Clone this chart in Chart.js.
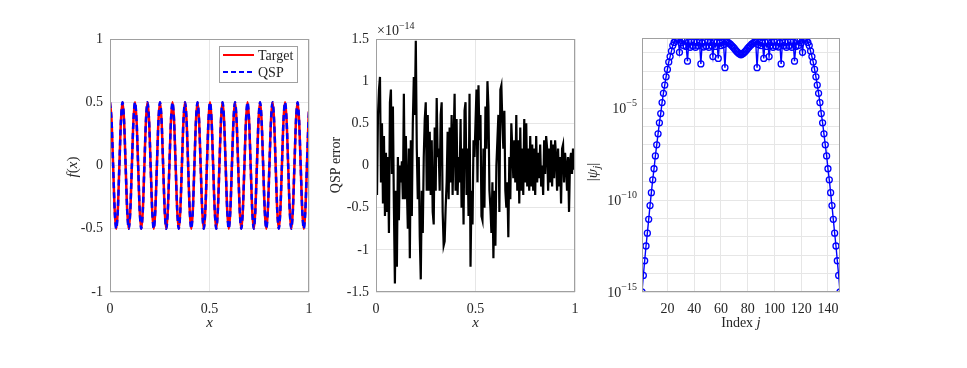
<!DOCTYPE html>
<html><head><meta charset="utf-8">
<script src="https://cdn.jsdelivr.net/npm/chart.js@4.4.0/dist/chart.umd.min.js"></script>
<style>
html,body{margin:0;padding:0;background:#fff;}
#wrap{position:relative;width:967px;height:368px;overflow:hidden;background:#fff;}
#wrap canvas{position:absolute;left:0;top:0;}
</style></head><body>
<div id="wrap">
<canvas id="c1" width="967" height="368"></canvas>
<canvas id="c2" width="967" height="368"></canvas>
<canvas id="c3" width="967" height="368"></canvas>
</div>
<script>
// ---------- Panel 1: f(x), Target vs QSP ----------
const fx = [0,0.00785,0.01571,0.02356,0.03142,0.03927,0.04712,0.05498,
0.06283,0.07069,0.07854,0.08639,0.09425,0.10210,0.10996,0.11781,
0.12566,0.13352,0.14137,0.14923,0.15708,0.16493,0.17279,0.18064,
0.18850,0.19635,0.20420,0.21206,0.21991,0.22777,0.23562,0.24347,
0.25133,0.25918,0.26704,0.27489,0.28274,0.29060,0.29845,0.30631,
0.31416,0.32201,0.32987,0.33772,0.34558,0.35343,0.36128,0.36914,
0.37699,0.38485,0.39270,0.40055,0.40841,0.41626,0.42412,0.43197,
0.43982,0.44768,0.45553,0.46339,0.47124,0.47909,0.48695,0.49480,
0.50265,0.51051,0.51836,0.52622,0.53407,0.54192,0.54978,0.55763,
0.56549,0.57334,0.58119,0.58905,0.59690,0.60476,0.61261,0.62046,
0.62832,0.63617,0.64403,0.65188,0.65973,0.66759,0.67544,0.68330,
0.69115,0.69900,0.70686,0.71471,0.72257,0.73042,0.73827,0.74613,
0.75398,0.76184,0.76969,0.77754,0.78540,0.79325,0.80111,0.80896,
0.81681,0.82467,0.83252,0.84038,0.84823,0.85608,0.86394,0.87179,
0.87965,0.88750,0.89535,0.90321,0.91106,0.91892,0.92677,0.93462,
0.94248,0.95033,0.95819,0.96604,0.97389,0.98175,0.98960,0.99746,1];
const targetY = [0.5,0.3536,0,-0.3536,-0.5,-0.3536,0,0.3536,
0.5,0.3536,0,-0.3536,-0.5,-0.3536,0,0.3536,
0.5,0.3536,0,-0.3536,-0.5,-0.3536,0,0.3536,
0.5,0.3536,0,-0.3536,-0.5,-0.3536,0,0.3536,
0.5,0.3536,0,-0.3536,-0.5,-0.3536,0,0.3536,
0.5,0.3536,0,-0.3536,-0.5,-0.3536,0,0.3536,
0.5,0.3536,0,-0.3536,-0.5,-0.3536,0,0.3536,
0.5,0.3536,0,-0.3536,-0.5,-0.3536,0,0.3536,
0.5,0.3536,0,-0.3536,-0.5,-0.3536,0,0.3536,
0.5,0.3536,0,-0.3536,-0.5,-0.3536,0,0.3536,
0.5,0.3536,0,-0.3536,-0.5,-0.3536,0,0.3536,
0.5,0.3536,0,-0.3536,-0.5,-0.3536,0,0.3536,
0.5,0.3536,0,-0.3536,-0.5,-0.3536,0,0.3536,
0.5,0.3536,0,-0.3536,-0.5,-0.3536,0,0.3536,
0.5,0.3536,0,-0.3536,-0.5,-0.3536,0,0.3536,
0.5,0.3536,0,-0.3536,-0.5,-0.3536,0,0.3536,0.431];
const qspY = [0.5,0.3536,0,-0.3536,-0.5,-0.3536,0,0.3536,
0.5,0.3536,0,-0.3536,-0.5,-0.3536,0,0.3536,
0.5,0.3536,0,-0.3536,-0.5,-0.3536,0,0.3536,
0.5,0.3536,0,-0.3536,-0.5,-0.3536,0,0.3536,
0.5,0.3536,0,-0.3536,-0.5,-0.3536,0,0.3536,
0.5,0.3536,0,-0.3536,-0.5,-0.3536,0,0.3536,
0.5,0.3536,0,-0.3536,-0.5,-0.3536,0,0.3536,
0.5,0.3536,0,-0.3536,-0.5,-0.3536,0,0.3536,
0.5,0.3536,0,-0.3536,-0.5,-0.3536,0,0.3536,
0.5,0.3536,0,-0.3536,-0.5,-0.3536,0,0.3536,
0.5,0.3536,0,-0.3536,-0.5,-0.3536,0,0.3536,
0.5,0.3536,0,-0.3536,-0.5,-0.3536,0,0.3536,
0.5,0.3536,0,-0.3536,-0.5,-0.3536,0,0.3536,
0.5,0.3536,0,-0.3536,-0.5,-0.3536,0,0.3536,
0.5,0.3536,0,-0.3536,-0.5,-0.3536,0,0.3536,
0.5,0.3536,0,-0.3536,-0.5,-0.3536,0,0.3536,0.431];
const p1XTicks = [0, 0.5, 1];
const p1XLabels = ['0', '0.5', '1'];
const p1YTicks = [-1, -0.5, 0, 0.5, 1];
const p1YLabels = ['-1', '-0.5', '0', '0.5', '1'];
const p1Legend = ['Target', 'QSP'];

// ---------- Panel 2: QSP error (units of 1e-14) ----------
const errX = [0,0.005,0.01,0.015,0.02,0.025,0.03,0.035,0.04,0.045,
0.05,0.055,0.06,0.065,0.07,0.075,0.08,0.085,0.09,0.095,
0.1,0.105,0.11,0.115,0.12,0.125,0.13,0.135,0.14,0.145,
0.15,0.155,0.16,0.165,0.17,0.175,0.18,0.185,0.19,0.195,
0.2,0.205,0.21,0.215,0.22,0.225,0.23,0.235,0.24,0.245,
0.25,0.255,0.26,0.265,0.27,0.275,0.28,0.285,0.29,0.295,
0.3,0.305,0.31,0.315,0.32,0.325,0.33,0.335,0.34,0.345,
0.35,0.355,0.36,0.365,0.37,0.375,0.38,0.385,0.39,0.395,
0.4,0.405,0.41,0.415,0.42,0.425,0.43,0.435,0.44,0.445,
0.45,0.455,0.46,0.465,0.47,0.475,0.48,0.485,0.49,0.495,
0.5,0.505,0.51,0.515,0.52,0.525,0.53,0.535,0.54,0.545,
0.55,0.555,0.56,0.565,0.57,0.575,0.58,0.585,0.59,0.595,
0.6,0.605,0.61,0.615,0.62,0.625,0.63,0.635,0.64,0.645,
0.65,0.655,0.66,0.665,0.67,0.675,0.68,0.685,0.69,0.695,
0.7,0.705,0.71,0.715,0.72,0.725,0.73,0.735,0.74,0.745,
0.75,0.755,0.76,0.765,0.77,0.775,0.78,0.785,0.79,0.795,
0.8,0.805,0.81,0.815,0.82,0.825,0.83,0.835,0.84,0.845,
0.85,0.855,0.86,0.865,0.87,0.875,0.88,0.885,0.89,0.895,
0.9,0.905,0.91,0.915,0.92,0.925,0.93,0.935,0.94,0.945,
0.95,0.955,0.96,0.965,0.97,0.975,0.98,0.985,0.99,0.995,1];
const errY = [0.0,-0.35,0.6,0.9,1.05,-0.2,0.5,-0.45,0.35,-0.6,
0.15,-0.55,0.1,-0.8,0.75,0.9,-0.1,0.7,-0.5,-1.4,
-0.3,-1.2,0.1,-0.65,0.0,-0.2,0.05,-0.4,0.85,-0.4,
0.35,-0.25,-0.75,0.2,-1.1,0.3,-0.6,0.5,1.05,0.6,
1.48,0.2,-0.4,0.1,-0.85,-1.35,-0.3,-0.8,0.1,0.55,
0.75,-0.3,0.6,-0.3,0.4,-0.35,0.3,-0.55,-0.7,0.45,
-0.3,0.8,0.1,0.2,-0.3,0.6,0.75,-0.55,-0.95,-0.9,
-0.5,-0.2,0.4,-0.4,0.45,-0.2,0.6,-0.35,0.3,0.85,
-0.3,0.55,-0.35,0.1,-0.2,0.55,-0.5,0.2,-0.7,0.65,
0.75,-0.35,0.2,-0.6,0.85,-1.2,-0.3,-0.7,0.3,0.1,
0.5,0.9,-0.2,0.95,0.3,0.6,-0.6,-0.65,0.2,-0.5,
0.7,0.2,1.0,0.7,-0.3,-0.5,-0.8,-0.2,-1.1,-0.3,
-0.95,0.0,0.3,0.6,-0.55,0.9,0.95,0.5,0.2,0.65,
-0.3,-0.5,-0.2,-0.85,0.1,-0.4,0.5,0.2,-0.15,0.3,
-0.2,0.6,-0.3,0.3,-0.45,0.45,-0.3,0.2,-0.35,0.55,
-0.2,0.5,-0.25,0.2,-0.3,0.35,-0.25,0.25,-0.3,0.2,
-0.35,0.35,-0.2,0.15,-0.15,0.25,-0.25,0.0,-0.35,0.3,
-0.1,0.35,0.2,-0.3,0.2,-0.2,0.3,-0.25,0.25,-0.15,
0.3,0.1,-0.3,0.2,-0.25,0.1,-0.45,0.2,0.25,-0.2,
0.15,0.0,-0.3,0.1,-0.55,0.05,0.15,-0.1,0.2,-0.05,0.05];
const p2XTicks = [0, 0.5, 1];
const p2XLabels = ['0', '0.5', '1'];
const p2YTicks = [-1.5, -1, -0.5, 0, 0.5, 1, 1.5];
const p2YLabels = ['-1.5', '-1', '-0.5', '0', '0.5', '1', '1.5'];
const p2Exponent = '\u221214';

// ---------- Panel 3: |psi_j| (log scale) ----------
const jIndex = [1,2,3,4,5,6,7,8,9,10,11,12,13,14,15,16,17,18,19,20,
21,22,23,24,25,26,27,28,29,30,31,32,33,34,35,36,37,38,39,40,
41,42,43,44,45,46,47,48,49,50,51,52,53,54,55,56,57,58,59,60,
61,62,63,64,65,66,67,68,69,70,71,72,73,74,75,76,77,78,79,80,
81,82,83,84,85,86,87,88,89,90,91,92,93,94,95,96,97,98,99,100,
101,102,103,104,105,106,107,108,109,110,111,112,113,114,115,116,117,118,119,120,
121,122,123,124,125,126,127,128,129,130,131,132,133,134,135,136,137,138,139,140,
141,142,143,144,145,146,147,148,149];
const psiAbs = [1e-15,7.94e-15,5.01e-14,3.16e-13,1.58e-12,8.91e-12,5.01e-11,2.51e-10,1.26e-9,5.01e-9,
2.51e-8,1.0e-7,3.98e-7,1.58e-6,5.01e-6,2.0e-5,6.31e-5,1.78e-4,5.01e-4,1.26e-3,
3.16e-3,6.31e-3,0.0126,0.0251,0.0372,0.0513,0.0631,0.0562,0.0107,0.0355,
0.0447,0.0251,0.0447,0.0224,0.00355,0.0398,0.0200,0.0417,0.0251,0.0398,
0.0200,0.0380,0.0251,0.0398,0.00251,0.0355,0.0209,0.0417,0.0240,0.0398,
0.0200,0.0380,0.0251,0.00631,0.0398,0.0224,0.0380,0.00501,0.0355,0.0251,
0.0380,0.0282,0.00158,0.0398,0.0380,0.0339,0.0295,0.0251,0.0209,0.0174,
0.0141,0.0117,0.0100,0.00871,0.00794,0.00871,0.0100,0.0117,0.0141,0.0174,
0.0209,0.0251,0.0295,0.0339,0.0380,0.0398,0.00158,0.0282,0.0380,0.0251,
0.0355,0.00501,0.0380,0.0224,0.0398,0.00631,0.0251,0.0380,0.0200,0.0398,
0.0240,0.0417,0.0209,0.0355,0.00251,0.0398,0.0251,0.0380,0.0200,0.0398,
0.0251,0.0417,0.0200,0.0398,0.00355,0.0224,0.0447,0.0251,0.0447,0.0355,
0.0107,0.0562,0.0631,0.0513,0.0372,0.0251,0.0126,6.31e-3,3.16e-3,1.26e-3,
5.01e-4,1.78e-4,6.31e-5,2.0e-5,5.01e-6,1.58e-6,3.98e-7,1.0e-7,2.51e-8,5.01e-9,
1.26e-9,2.51e-10,5.01e-11,8.91e-12,1.58e-12,3.16e-13,5.01e-14,7.94e-15,1e-15];
const p3XTicks = [20, 40, 60, 80, 100, 120, 140];
const p3XLabels = ['20', '40', '60', '80', '100', '120', '140'];
const p3GridDecades = [1e-15,1e-14,1e-13,1e-12,1e-11,1e-10,1e-9,1e-8,1e-7,1e-6,1e-5,1e-4,1e-3,1e-2];
const p3YLabelVals = [1e-15, 1e-10, 1e-5];
const p3YLabelExps = ['\u221215', '\u221210', '\u22125'];

// ---------- styling / layout ----------
const FONT = "'Liberation Serif','DejaVu Serif',serif";
const TXT = '#262626';
const BOX = '#a0a0a0';
const GRID = '#e6e6e6';
const W = 967, H = 368;

function drawRuns(ctx, x, y, runs, rot, align) {
  ctx.save();
  ctx.translate(x, y);
  if (rot) ctx.rotate(rot);
  let w = 0;
  runs.forEach(r => { ctx.font = r.f; w += ctx.measureText(r.t).width; });
  let cx = align === 'right' ? -w : (align === 'left' ? 0 : -w / 2);
  ctx.textBaseline = 'alphabetic';
  ctx.textAlign = 'left';
  ctx.fillStyle = TXT;
  runs.forEach(r => { ctx.font = r.f; ctx.fillText(r.t, cx, r.dy || 0); cx += ctx.measureText(r.t).width; });
  ctx.restore();
}
const rom = (s) => s + 'px ' + FONT;
const ita = (s) => 'italic ' + s + 'px ' + FONT;

function boxPlugin(extra) {
  return {
    id: 'boxAndText',
    afterDraw(chart) {
      const ctx = chart.ctx, a = chart.chartArea;
      ctx.save();
      ctx.strokeStyle = BOX;
      ctx.lineWidth = 1;
      ctx.strokeRect(Math.round(a.left) + 0.5, Math.round(a.top) + 0.5,
        Math.round(a.right - a.left) - 1, Math.round(a.bottom - a.top) - 1);
      ctx.restore();
      if (extra) extra(chart, ctx, a);
    }
  };
}

function axisCfg(ticksArr, labelsArr, min, max, isX, extra) {
  const cfg = {
    type: 'linear', min: min, max: max,
    afterBuildTicks(s) { s.ticks = ticksArr.map(v => ({ value: v })); },
    afterFit(s) { if (isX) s.height = 50; else s.width = 60; },
    grid: { color: GRID, drawTicks: false, lineWidth: 1 },
    border: { display: false },
    ticks: {
      autoSkip: false, maxRotation: 0, padding: isX ? 9 : 7,
      color: TXT, font: { family: FONT, size: 14 },
      callback: (v, i) => labelsArr[i]
    }
  };
  return Object.assign(cfg, extra || {});
}

function layoutFor(L, R, T, B) {
  return { padding: { left: L - 60, right: W - R, top: T, bottom: H - B - 50 } };
}

const common = {
  responsive: false, animation: false, devicePixelRatio: 1,
  plugins: { legend: { display: false }, tooltip: { enabled: false } },
  events: []
};

// Panel 1 (QSP dashed drawn on top of Target)
new Chart(document.getElementById('c1'), {
  type: 'line',
  data: { datasets: [
    { data: fx.map((x, i) => ({ x: x, y: targetY[i] })), borderColor: '#ff0000', borderWidth: 2.5,
      pointRadius: 0, cubicInterpolationMode: 'monotone', fill: false, order: 2 },
    { data: fx.map((x, i) => ({ x: x, y: qspY[i] })), borderColor: '#0000ff', borderWidth: 2.5,
      borderDash: [6, 4], pointRadius: 0, cubicInterpolationMode: 'monotone', fill: false, order: 1 }
  ]},
  options: Object.assign({}, common, {
    layout: layoutFor(110, 309, 39, 292),
    scales: {
      x: axisCfg(p1XTicks, p1XLabels, 0, 1, true),
      y: axisCfg(p1YTicks, p1YLabels, -1, 1, false)
    }
  }),
  plugins: [boxPlugin((chart, ctx, a) => {
    drawRuns(ctx, (a.left + a.right) / 2, 327, [{ t: 'x', f: ita(15) }]);
    drawRuns(ctx, 77, 167, [{ t: 'f', f: ita(15) }, { t: '(', f: rom(15) }, { t: 'x', f: ita(15) }, { t: ')', f: rom(15) }], -Math.PI / 2);
    // legend
    ctx.save();
    ctx.fillStyle = '#fff';
    ctx.fillRect(219.5, 46.5, 78, 36);
    ctx.strokeStyle = BOX; ctx.lineWidth = 1;
    ctx.strokeRect(219.5, 46.5, 78, 36);
    ctx.lineWidth = 2;
    ctx.strokeStyle = '#ff0000';
    ctx.beginPath(); ctx.moveTo(223, 55); ctx.lineTo(254, 55); ctx.stroke();
    ctx.strokeStyle = '#0000ff'; ctx.setLineDash([5, 3]);
    ctx.beginPath(); ctx.moveTo(223, 72); ctx.lineTo(254, 72); ctx.stroke();
    ctx.restore();
    drawRuns(ctx, 258, 60, [{ t: p1Legend[0], f: rom(14) }], 0, 'left');
    drawRuns(ctx, 258, 77, [{ t: p1Legend[1], f: rom(14) }], 0, 'left');
  })]
});

// Panel 2
new Chart(document.getElementById('c2'), {
  type: 'line',
  data: { datasets: [
    { data: errX.map((x, i) => ({ x: x, y: errY[i] })), borderColor: '#000000', borderWidth: 2.2,
      pointRadius: 0, tension: 0, fill: false }
  ]},
  options: Object.assign({}, common, {
    layout: layoutFor(376, 575, 39, 292),
    scales: {
      x: axisCfg(p2XTicks, p2XLabels, 0, 1, true),
      y: axisCfg(p2YTicks, p2YLabels, -1.5, 1.5, false)
    }
  }),
  plugins: [boxPlugin((chart, ctx, a) => {
    drawRuns(ctx, (a.left + a.right) / 2, 327, [{ t: 'x', f: ita(15) }]);
    drawRuns(ctx, 340, 165, [{ t: 'QSP error', f: rom(14) }], -Math.PI / 2);
    drawRuns(ctx, 377, 35, [{ t: '\u00d710', f: rom(14) }, { t: p2Exponent, f: rom(10), dy: -6 }], 0, 'left');
  })]
});

// Panel 3
new Chart(document.getElementById('c3'), {
  type: 'line',
  data: { datasets: [
    { data: jIndex.map((j, i) => ({ x: j, y: psiAbs[i] })), borderColor: '#0000ff', borderWidth: 1.4,
      pointRadius: 3, pointBorderWidth: 1.3, pointBorderColor: '#0000ff',
      pointBackgroundColor: 'rgba(0,0,0,0)', tension: 0, fill: false }
  ]},
  options: Object.assign({}, common, {
    layout: layoutFor(642, 840, 38, 292),
    scales: {
      x: axisCfg(p3XTicks, p3XLabels, 1, 149, true),
      y: axisCfg(p3GridDecades, p3GridDecades.map(() => ''), 1e-15, 0.0645, false,
        { type: 'logarithmic', ticks: { display: false } })
    }
  }),
  plugins: [boxPlugin((chart, ctx, a) => {
    const ys = chart.scales.y;
    p3YLabelVals.forEach((v, i) => {
      const py = ys.getPixelForValue(v);
      drawRuns(ctx, 637, py + 5, [{ t: '10', f: rom(14) }, { t: p3YLabelExps[i], f: rom(10), dy: -7 }], 0, 'right');
    });
    drawRuns(ctx, (a.left + a.right) / 2, 327, [{ t: 'Index ', f: rom(14) }, { t: 'j', f: ita(15) }]);
    drawRuns(ctx, 597, 172, [{ t: '|', f: rom(15) }, { t: '\u03c8', f: ita(15) }, { t: 'j', f: ita(11), dy: 3 }, { t: '|', f: rom(15) }], -Math.PI / 2);
  })]
});
</script>
</body></html>
